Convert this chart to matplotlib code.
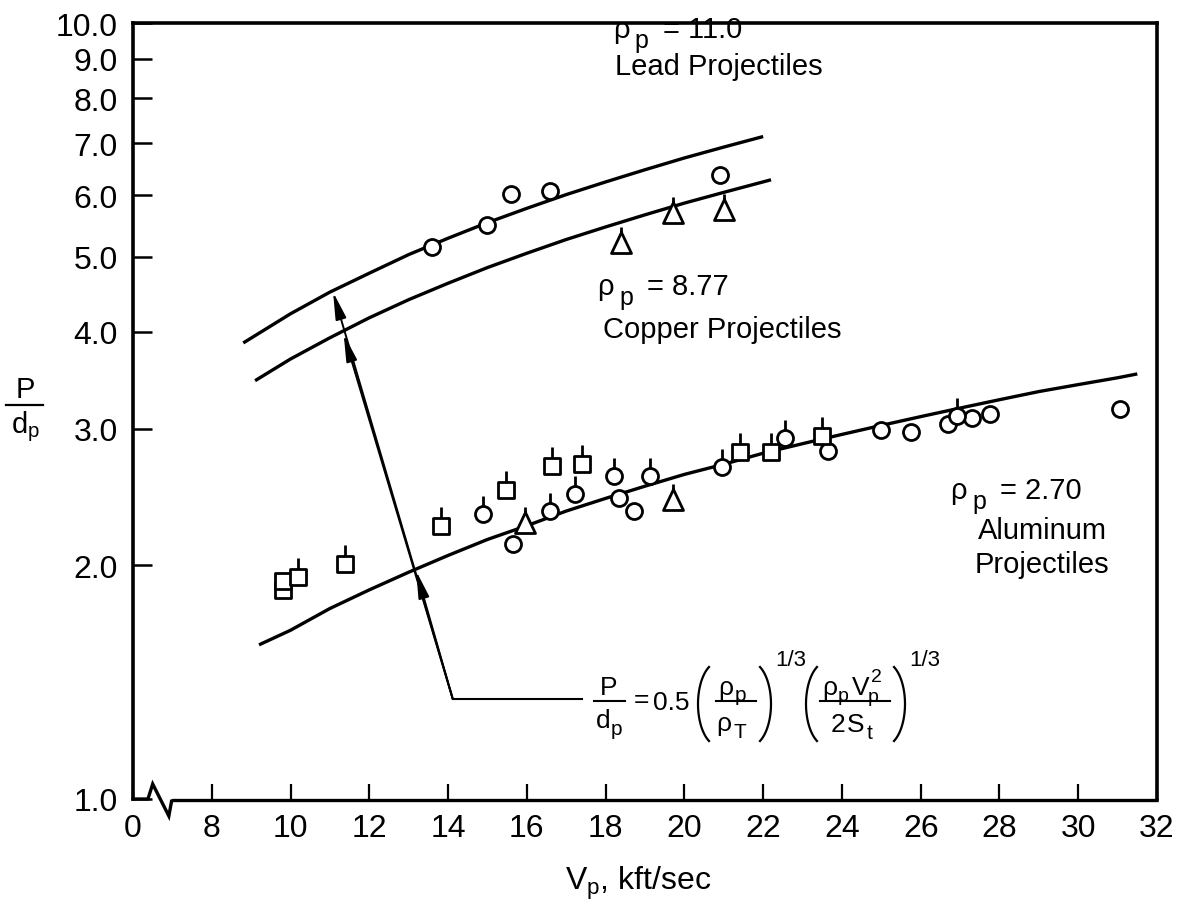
import numpy as np
import matplotlib
matplotlib.use('Agg')
import matplotlib.pyplot as plt
from matplotlib.path import Path
from matplotlib.lines import Line2D
from matplotlib.ticker import FixedLocator, NullLocator
from matplotlib.transforms import blended_transform_factory

plt.rcParams['font.family'] = ['Liberation Sans', 'DejaVu Sans']
plt.rcParams['mathtext.fontset'] = 'custom'
plt.rcParams['mathtext.rm'] = 'Liberation Sans'
plt.rcParams['mathtext.it'] = 'Liberation Sans'
plt.rcParams['mathtext.bf'] = 'Liberation Sans:bold'
plt.rcParams['mathtext.default'] = 'rm'

# ---------------- data ----------------
x_ticks = [6, 8, 10, 12, 14, 16, 18, 20, 22, 24, 26, 28, 30, 32]
x_tick_labels = ['0', '8', '10', '12', '14', '16', '18', '20', '22', '24', '26', '28', '30', '32']
y_ticks = [1, 2, 3, 4, 5, 6, 7, 8, 9, 10]
y_tick_labels = ['1.0', '2.0', '3.0', '4.0', '5.0', '6.0', '7.0', '8.0', '9.0', '10.0']

lead_curve_v = [8.8, 10, 11, 12, 13, 14, 15, 16, 17, 18, 19, 20, 21, 22]
lead_curve_y = [3.87, 4.22, 4.50, 4.76, 5.03, 5.28, 5.53, 5.77, 6.01, 6.24, 6.47, 6.70, 6.92, 7.14]
cu_curve_v = [9.1, 10, 11, 12, 13, 14, 15, 16, 17, 18, 19, 20, 21, 22.2]
cu_curve_y = [3.46, 3.69, 3.93, 4.17, 4.40, 4.62, 4.84, 5.05, 5.26, 5.46, 5.66, 5.86, 6.05, 6.28]
al_curve_v = [9.2, 10, 11, 12, 13, 14, 15, 16, 17, 18, 19, 20, 21, 22, 23, 24, 25,
              26, 27, 28, 29, 30, 31, 31.5]
al_curve_y = [1.58, 1.65, 1.76, 1.86, 1.96, 2.06, 2.16, 2.25, 2.35, 2.44, 2.53, 2.62,
              2.70, 2.79, 2.87, 2.95, 3.03, 3.11, 3.19, 3.27, 3.35, 3.42, 3.49, 3.53]

lead_circ_v = [13.6, 15.0, 15.6, 16.6, 20.9]
lead_circ_y = [5.14, 5.49, 6.02, 6.08, 6.37]
lead_circ_flag = [False, False, False, False, False]

cu_tri_v = [18.4, 19.7, 21.0]
cu_tri_y = [5.19, 5.67, 5.73]
cu_tri_flag = [True, True, True]

al_circ_v = [15.64, 14.89, 16.58, 17.22, 18.22, 18.34, 18.72, 19.12, 20.96, 22.55,
             23.64, 24.99, 25.75, 26.69, 26.92, 27.30, 27.76, 31.06]
al_circ_y = [2.13, 2.33, 2.35, 2.47, 2.61, 2.44, 2.35, 2.61, 2.68, 2.92,
             2.81, 2.99, 2.97, 3.04, 3.12, 3.10, 3.13, 3.18]
al_circ_flag = [False, True, True, True, True, False, False, True, True, True,
                False, False, False, False, True, False, False, False]

al_sq_v = [9.8, 9.8, 10.18, 11.38, 13.82, 15.46, 16.64, 17.39, 21.41, 22.19, 23.49]
al_sq_y = [1.86, 1.91, 1.93, 2.01, 2.25, 2.50, 2.69, 2.70, 2.80, 2.80, 2.94]
al_sq_flag = [False, False, True, True, True, True, True, True, True, True, True]

al_tri_v = [15.95, 19.70]
al_tri_y = [2.26, 2.42]
al_tri_flag = [True, True]

# ---------------- figure ----------------
W, H = 1187, 912
fig = plt.figure(figsize=(W / 100, H / 100), dpi=100)
ax = fig.add_axes([133 / W, 1 - 800 / H, (1157 - 133) / W, (800 - 24) / H])
ax.set_yscale('log')
ax.set_xlim(6, 32)
ax.set_ylim(1, 10)

tfs = 23
ax.xaxis.set_major_locator(FixedLocator(x_ticks))
ax.set_xticklabels(x_tick_labels, fontsize=tfs)
ax.yaxis.set_major_locator(FixedLocator(y_ticks))
ax.yaxis.set_minor_locator(NullLocator())
ax.set_yticklabels(y_tick_labels, fontsize=tfs)
ax.tick_params(axis='x', direction='in', length=11, width=1.6, pad=10)
ax.tick_params(axis='y', direction='in', length=14, width=1.8, pad=11)

for s in ['left', 'right', 'top']:
    ax.spines[s].set_linewidth(2.6)
ax.spines['bottom'].set_visible(False)

# bottom axis with break symbol
bt = blended_transform_factory(ax.transData, ax.transAxes)
px = 1 / 776
ax.plot([6.0, 6.38, 6.50, 6.91, 6.98, 7.02, 32.0],
        [0, 0, 15 * px, -17 * px, -2 * px, -1.5 * px, -1.5 * px],
        color='k', lw=2.4, transform=bt, clip_on=False, solid_joinstyle='miter', zorder=5)

# curves
for v, y in [(lead_curve_v, lead_curve_y), (cu_curve_v, cu_curve_y), (al_curve_v, al_curve_y)]:
    ax.plot(v, y, color='k', lw=2.4, solid_capstyle='butt', zorder=2)


def symbol(shape, flag):
    if shape == 'o':
        parts = [Path.circle((0, 0), 8)]
        top, L = 8, 10
    elif shape == 's':
        parts = [Path([(-8, -8), (8, -8), (8, 8), (-8, 8), (-8, -8)],
                      [Path.MOVETO, Path.LINETO, Path.LINETO, Path.LINETO, Path.CLOSEPOLY])]
        top, L = 8, 11
    else:
        parts = [Path([(-10, -9), (10, -9), (0, 12), (-10, -9)],
                      [Path.MOVETO, Path.LINETO, Path.LINETO, Path.CLOSEPOLY])]
        top, L = 12, 5
    if flag:
        parts.append(Path([(0, top), (0, top + L)], [Path.MOVETO, Path.LINETO]))
    p = Path.make_compound_path(*parts)
    m = np.abs(p.vertices).max()
    return p, 2 * m * 0.72


def draw(vs, ys, flags, shape):
    for f in (False, True):
        sv = [v for v, g in zip(vs, flags) if g == f]
        sy = [y for y, g in zip(ys, flags) if g == f]
        if not sv:
            continue
        path, ms = symbol(shape, f)
        ax.plot(sv, sy, linestyle='none', marker=path, ms=ms, mfc='white',
                mec='k', mew=2.0, zorder=4)


draw(lead_circ_v, lead_circ_y, lead_circ_flag, 'o')
draw(cu_tri_v, cu_tri_y, cu_tri_flag, '^')
draw(al_circ_v, al_circ_y, al_circ_flag, 'o')
draw(al_sq_v, al_sq_y, al_sq_flag, 's')
draw(al_tri_v, al_tri_y, al_tri_flag, '^')

# leader line with arrows
start = (14.12, 1.345)
ax.plot([start[0], 17.40], [start[1], start[1]], color='k', lw=1.5, zorder=3)
tips = [(13.19, 1.967), (11.35, 3.97), (11.08, 4.50)]
for tip in tips:
    ax.annotate('', xy=tip, xytext=start,
                arrowprops=dict(arrowstyle='-|>,head_length=1.1,head_width=0.22',
                                mutation_scale=15, lw=1.4, color='k',
                                shrinkA=0, shrinkB=0), zorder=3)

fs = 21


def rho_label(x, y, value):
    kw = dict(xycoords='data', textcoords='offset points', ha='left', va='center')
    ax.annotate('ρ', (x, y), xytext=(0, 0), fontsize=fs, **kw)
    ax.annotate('p', (x, y), xytext=(16, -8), fontsize=18, **kw)
    ax.annotate('= ' + value, (x, y), xytext=(36, 0), fontsize=fs, **kw)


rho_label(18.18, 9.82, '11.0')
ax.text(18.23, 8.81, 'Lead Projectiles', fontsize=fs, ha='left', va='center')
rho_label(17.78, 4.58, '8.77')
ax.text(17.93, 4.03, 'Copper Projectiles', fontsize=fs, ha='left', va='center')
rho_label(26.74, 2.50, '2.70')
ax.text(27.45, 2.22, 'Aluminum', fontsize=fs, ha='left', va='center')
ax.text(27.37, 2.01, 'Projectiles', fontsize=fs, ha='left', va='center')


# ---- formula, composed piece by piece (figure pixel positions) ----
def ftxt(x, y, s, size=19, ha='left'):
    fig.text(x / W, 1 - y / H, s, fontsize=size, ha=ha, va='baseline')


def fbar(x0, x1, y, lw=1.5):
    fig.add_artist(Line2D([x0 / W, x1 / W], [1 - y / H, 1 - y / H], color='k', lw=lw))


def fparen(x, y0, y1, left=True, bulge=11):
    T = np.radians(62)
    t = np.linspace(-T, T, 40)
    cy = (y0 + y1) / 2
    hh = (y1 - y0) / 2
    dx = bulge * (1 - np.cos(t)) / (1 - np.cos(T))
    xs = x + dx if left else x - dx
    ys = cy + hh * np.sin(t) / np.sin(T)
    fig.add_artist(Line2D(xs / W, 1 - ys / H, color='k', lw=1.6))


ftxt(609, 695, 'P', ha='center')
fbar(594, 625, 702)
ftxt(603, 728, 'd', ha='center')
ftxt(611, 735, 'p', size=15)
ftxt(641, 707, '=', ha='center')
ftxt(653, 710, '0.5')
fparen(698, 668, 742, left=True)
ftxt(718, 695, 'ρ')
ftxt(735, 701, 'p', size=15)
fbar(716, 756, 702)
ftxt(716, 731, 'ρ')
ftxt(734, 738, 'T', size=15)
fparen(771, 668, 742, left=False)
ftxt(775, 666, '1/3', size=16)
fparen(806, 668, 742, left=True)
ftxt(822, 695, 'ρ')
ftxt(838, 701, 'p', size=14)
ftxt(852, 695, 'V')
ftxt(868, 702, 'p', size=14)
ftxt(871, 682, '2', size=14)
fbar(820, 890, 702)
ftxt(831, 732, '2')
ftxt(847, 732, 'S')
ftxt(867, 739, 't', size=15)
fparen(905, 668, 742, left=False)
ftxt(909, 666, '1/3', size=16)

fig.text(565 / W, 1 - 890 / H, r'$V_p$, kft/sec', fontsize=23, ha='left', va='baseline')

# y label as stacked fraction
fig.text(25 / W, 1 - 398 / H, 'P', fontsize=fs, ha='center', va='baseline')
fig.add_artist(Line2D([6 / W, 43 / W], [1 - 406 / H, 1 - 406 / H], color='k', lw=1.6))
fig.text(25 / W, 1 - 433 / H, r'$d_p$', fontsize=fs, ha='center', va='baseline')

fig.savefig('out.png', dpi=100)
